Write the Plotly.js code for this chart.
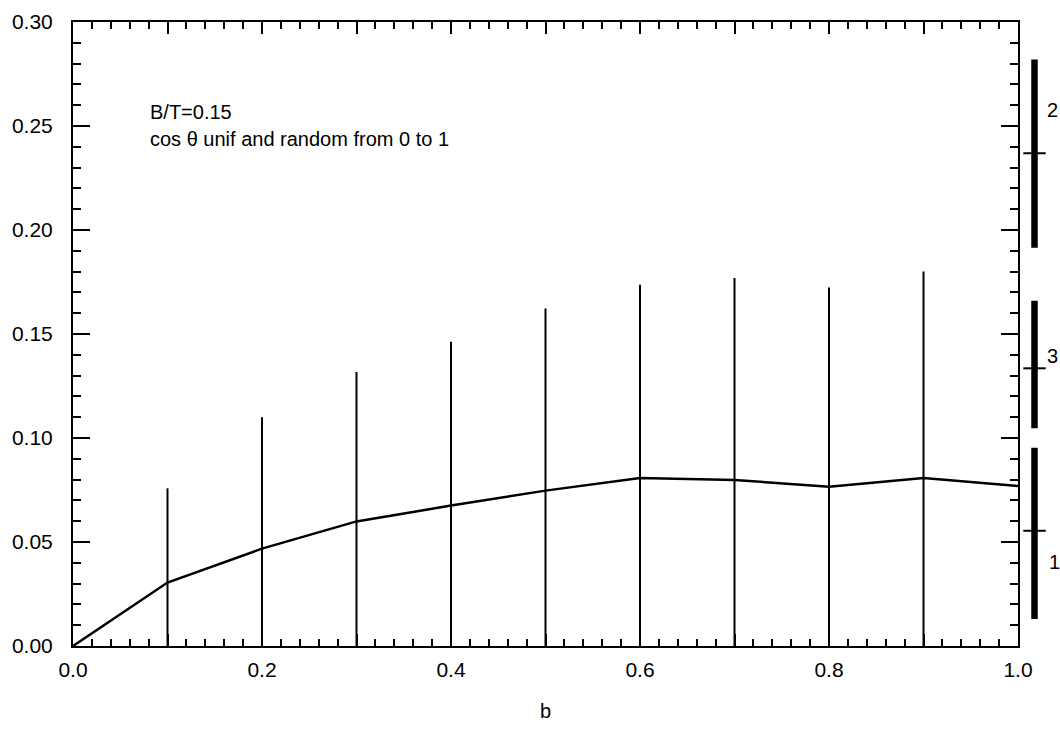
<!DOCTYPE html>
<html>
<head>
<meta charset="utf-8">
<script src="https://cdn.plot.ly/plotly-3.0.1.min.js"></script>
<style>
  html, body { margin: 0; padding: 0; background: #ffffff; }
  #chart { width: 1060px; height: 730px; }
</style>
</head>
<body>
<div id="chart"></div>
<script>
// Mean value versus b, with its spread drawn as vertical error bars
const bValues    = [0.0, 0.1, 0.2, 0.3, 0.4, 0.5, 0.6, 0.7, 0.8, 0.9, 1.0];
const meanValues = [0.0, 0.0305, 0.0468, 0.0599, 0.0675, 0.0747, 0.0808, 0.0798, 0.0766, 0.0808, 0.0769];
const spreadValues = [0.0, 0.0453, 0.0632, 0.0718, 0.0788, 0.0876, 0.0929, 0.0971, 0.0958, 0.0993, 0.0];

// Reference ranges shown to the right of the frame
const rangeLabels  = ['2', '3', '1'];
const rangeCentres = [0.2369, 0.1335, 0.0554];
const rangeUpper   = [0.2820, 0.1660, 0.0953];
const rangeLower   = [0.1915, 0.1047, 0.0130];

// Axis tick labelling
const xTickValues = [0.0, 0.1, 0.2, 0.3, 0.4, 0.5, 0.6, 0.7, 0.8, 0.9, 1.0];
const xTickText   = ['0.0', '', '0.2', '', '0.4', '', '0.6', '', '0.8', '', '1.0'];

const noteLines = ['B/T=0.15', 'cos \u03b8 unif and random from 0 to 1'];

const FONT = 'Liberation Sans, Arial, Helvetica, sans-serif';
const INK = '#000000';

const mainTrace = {
  type: 'scatter',
  mode: 'lines',
  x: bValues,
  y: meanValues,
  line: { color: INK, width: 2.5 },
  error_y: {
    type: 'data',
    symmetric: true,
    array: spreadValues,
    color: INK,
    thickness: 2,
    width: 0,
    visible: true
  },
  hoverinfo: 'skip',
  showlegend: false
};

const rangeTrace = {
  type: 'scatter',
  mode: 'markers',
  xaxis: 'x2',
  yaxis: 'y',
  x: rangeLabels.map(() => 0),
  y: rangeCentres,
  marker: { symbol: 'line-ew', size: 16, color: INK, line: { color: INK, width: 2 } },
  error_y: {
    type: 'data',
    symmetric: false,
    array: rangeUpper.map((u, i) => u - rangeCentres[i]),
    arrayminus: rangeLower.map((l, i) => rangeCentres[i] - l),
    color: INK,
    thickness: 6.5,
    width: 0,
    visible: true
  },
  hoverinfo: 'skip',
  showlegend: false
};

// label placement for the side ranges
const rangeLabelY = [0.2577, 0.1394, 0.0404];
const rangeLabelX = [17.5, 17.5, 20];

const annotations = rangeLabels.map((t, i) => ({
  text: t,
  xref: 'x2', yref: 'y',
  x: rangeLabelX[i], y: rangeLabelY[i],
  xanchor: 'center', yanchor: 'middle',
  showarrow: false,
  font: { family: FONT, size: 20, color: INK }
})).concat(noteLines.map((t, i) => ({
  text: t,
  xref: 'x', yref: 'y',
  x: 0.079, y: i === 0 ? 0.2567 : 0.2437,
  xanchor: 'left', yanchor: 'middle',
  showarrow: false,
  font: { family: FONT, size: 20, color: INK }
})));

const mainEnd = 945 / 987;

const layout = {
  width: 1060,
  height: 730,
  margin: { l: 73, r: 0, t: 22, b: 84 },
  paper_bgcolor: '#ffffff',
  plot_bgcolor: '#ffffff',
  font: { family: FONT, size: 21, color: INK },
  showlegend: false,
  xaxis: {
    domain: [0, mainEnd],
    range: [0, 1],
    tickmode: 'array',
    tickvals: xTickValues,
    ticktext: xTickText,
    ticks: 'inside',
    ticklen: 12,
    tickwidth: 2,
    tickcolor: INK,
    minor: { tickmode: 'linear', tick0: 0, dtick: 0.02, ticks: 'inside', ticklen: 7, tickwidth: 2, tickcolor: INK, showgrid: false },
    showline: true,
    linewidth: 2,
    linecolor: INK,
    mirror: 'ticks',
    showgrid: false,
    zeroline: false,
    tickfont: { family: FONT, size: 21, color: INK },
    ticklabelstandoff: 4,
    title: { text: 'b', font: { family: FONT, size: 20, color: INK }, standoff: 24 },
    automargin: false
  },
  xaxis2: {
    domain: [mainEnd, 1],
    range: [-16.5, 25.5],
    anchor: 'y',
    visible: false,
    showgrid: false,
    zeroline: false
  },
  yaxis: {
    anchor: 'x',
    range: [0, 0.3],
    tickmode: 'linear',
    tick0: 0,
    dtick: 0.05,
    tickformat: '.2f',
    ticks: 'inside',
    ticklen: 17,
    tickwidth: 2,
    tickcolor: INK,
    minor: { tickmode: 'linear', tick0: 0, dtick: 0.01, ticks: 'inside', ticklen: 8, tickwidth: 2, tickcolor: INK, showgrid: false },
    showline: true,
    linewidth: 2,
    linecolor: INK,
    mirror: 'ticks',
    showgrid: false,
    zeroline: false,
    tickfont: { family: FONT, size: 21, color: INK },
    ticklabelstandoff: 14,
    automargin: false
  },
  annotations: annotations
};

Plotly.newPlot('chart', [mainTrace, rangeTrace], layout, { displayModeBar: false, responsive: false });
</script>
</body>
</html>
